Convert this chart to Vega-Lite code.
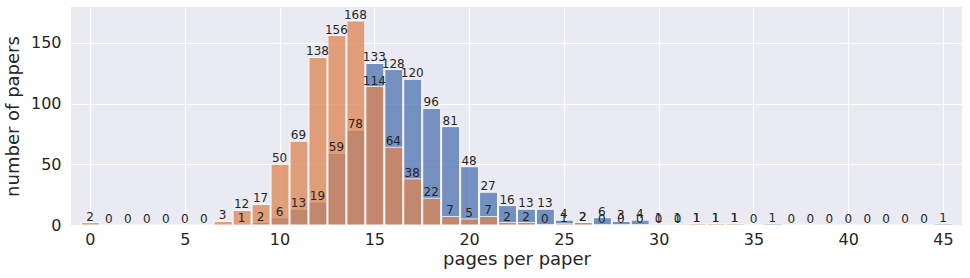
{
  "$schema": "https://vega.github.io/schema/vega-lite/v6.json",
  "width": 891,
  "height": 218,
  "autosize": "none",
  "padding": {"left": 71, "top": 7, "right": 8, "bottom": 53},
  "background": "white",
  "config": {
    "view": {"fill": "#EAEAF2", "stroke": null},
    "font": "DejaVu Sans",
    "axis": {
      "domain": false,
      "ticks": false,
      "grid": true,
      "gridColor": "white",
      "gridWidth": 1.2,
      "labelFont": "DejaVu Sans",
      "titleFont": "DejaVu Sans",
      "labelFontSize": 16,
      "titleFontSize": 18,
      "labelColor": "#262626",
      "titleColor": "#262626",
      "titleFontWeight": "normal"
    }
  },
  "data": {
    "values": [
      {"page": 8, "count": 1, "series": "A"},
      {"page": 9, "count": 2, "series": "A"},
      {"page": 10, "count": 6, "series": "A"},
      {"page": 11, "count": 13, "series": "A"},
      {"page": 12, "count": 19, "series": "A"},
      {"page": 13, "count": 59, "series": "A"},
      {"page": 14, "count": 78, "series": "A"},
      {"page": 15, "count": 133, "series": "A"},
      {"page": 16, "count": 128, "series": "A"},
      {"page": 17, "count": 120, "series": "A"},
      {"page": 18, "count": 96, "series": "A"},
      {"page": 19, "count": 81, "series": "A"},
      {"page": 20, "count": 48, "series": "A"},
      {"page": 21, "count": 27, "series": "A"},
      {"page": 22, "count": 16, "series": "A"},
      {"page": 23, "count": 13, "series": "A"},
      {"page": 24, "count": 13, "series": "A"},
      {"page": 25, "count": 4, "series": "A"},
      {"page": 26, "count": 2, "series": "A"},
      {"page": 27, "count": 6, "series": "A"},
      {"page": 28, "count": 3, "series": "A"},
      {"page": 29, "count": 4, "series": "A"},
      {"page": 30, "count": 1, "series": "A"},
      {"page": 31, "count": 1, "series": "A"},
      {"page": 32, "count": 1, "series": "A"},
      {"page": 33, "count": 1, "series": "A"},
      {"page": 34, "count": 1, "series": "A"},
      {"page": 35, "count": 0, "series": "A"},
      {"page": 36, "count": 1, "series": "A"},
      {"page": 37, "count": 0, "series": "A"},
      {"page": 38, "count": 0, "series": "A"},
      {"page": 39, "count": 0, "series": "A"},
      {"page": 40, "count": 0, "series": "A"},
      {"page": 41, "count": 0, "series": "A"},
      {"page": 42, "count": 0, "series": "A"},
      {"page": 43, "count": 0, "series": "A"},
      {"page": 44, "count": 0, "series": "A"},
      {"page": 45, "count": 1, "series": "A"},
      {"page": 0, "count": 2, "series": "B"},
      {"page": 1, "count": 0, "series": "B"},
      {"page": 2, "count": 0, "series": "B"},
      {"page": 3, "count": 0, "series": "B"},
      {"page": 4, "count": 0, "series": "B"},
      {"page": 5, "count": 0, "series": "B"},
      {"page": 6, "count": 0, "series": "B"},
      {"page": 7, "count": 3, "series": "B"},
      {"page": 8, "count": 12, "series": "B"},
      {"page": 9, "count": 17, "series": "B"},
      {"page": 10, "count": 50, "series": "B"},
      {"page": 11, "count": 69, "series": "B"},
      {"page": 12, "count": 138, "series": "B"},
      {"page": 13, "count": 156, "series": "B"},
      {"page": 14, "count": 168, "series": "B"},
      {"page": 15, "count": 114, "series": "B"},
      {"page": 16, "count": 64, "series": "B"},
      {"page": 17, "count": 38, "series": "B"},
      {"page": 18, "count": 22, "series": "B"},
      {"page": 19, "count": 7, "series": "B"},
      {"page": 20, "count": 5, "series": "B"},
      {"page": 21, "count": 7, "series": "B"},
      {"page": 22, "count": 2, "series": "B"},
      {"page": 23, "count": 2, "series": "B"},
      {"page": 24, "count": 0, "series": "B"},
      {"page": 25, "count": 1, "series": "B"},
      {"page": 26, "count": 2, "series": "B"},
      {"page": 27, "count": 0, "series": "B"},
      {"page": 28, "count": 0, "series": "B"},
      {"page": 29, "count": 0, "series": "B"},
      {"page": 30, "count": 0, "series": "B"},
      {"page": 31, "count": 0, "series": "B"},
      {"page": 32, "count": 1, "series": "B"},
      {"page": 33, "count": 1, "series": "B"},
      {"page": 34, "count": 1, "series": "B"}
    ]
  },
  "layer": [
    {
      "transform": [{"filter": "datum.series === 'A'"}],
      "mark": {"type": "bar", "color": "#4C72B0", "opacity": 0.75, "stroke": "white", "strokeWidth": 1},
      "encoding": {
        "x": {"field": "page", "type": "quantitative", "bin": {"step": 1, "anchor": -0.5, "extent": [-0.5, 45.5]},
              "scale": {"domain": [-1, 46], "nice": false, "zero": false},
              "axis": {"values": [0, 5, 10, 15, 20, 25, 30, 35, 40, 45], "format": "d", "title": "pages per paper", "labelPadding": 6, "titlePadding": 3}},
        "y": {"aggregate": "sum", "field": "count", "type": "quantitative",
              "scale": {"domain": [0, 179.5], "nice": false},
              "axis": {"values": [0, 50, 100, 150], "title": "number of papers", "labelPadding": 10, "titlePadding": 8}}
      }
    },
    {
      "transform": [{"filter": "datum.series === 'B'"}],
      "mark": {"type": "bar", "color": "#DD8452", "opacity": 0.75, "stroke": "white", "strokeWidth": 1},
      "encoding": {
        "x": {"field": "page", "type": "quantitative", "bin": {"step": 1, "anchor": -0.5, "extent": [-0.5, 45.5]},
              "scale": {"domain": [-1, 46], "nice": false, "zero": false},
              "axis": {"values": [0, 5, 10, 15, 20, 25, 30, 35, 40, 45], "format": "d", "title": "pages per paper", "labelPadding": 6, "titlePadding": 3}},
        "y": {"aggregate": "sum", "field": "count", "type": "quantitative",
              "scale": {"domain": [0, 179.5], "nice": false},
              "axis": {"values": [0, 50, 100, 150], "title": "number of papers", "labelPadding": 10, "titlePadding": 8}}
      }
    },
    {
      "mark": {"type": "text", "baseline": "alphabetic", "dy": -2, "fontSize": 12, "color": "#262626", "font": "DejaVu Sans"},
      "encoding": {
        "x": {"field": "page", "type": "quantitative",
              "scale": {"domain": [-1, 46], "nice": false, "zero": false},
              "axis": {"values": [0, 5, 10, 15, 20, 25, 30, 35, 40, 45], "format": "d", "title": "pages per paper", "labelPadding": 6, "titlePadding": 3}},
        "y": {"field": "count", "type": "quantitative",
              "scale": {"domain": [0, 179.5], "nice": false},
              "axis": {"values": [0, 50, 100, 150], "title": "number of papers", "labelPadding": 10, "titlePadding": 8}},
        "text": {"field": "count", "type": "quantitative"}
      }
    }
  ]
}
